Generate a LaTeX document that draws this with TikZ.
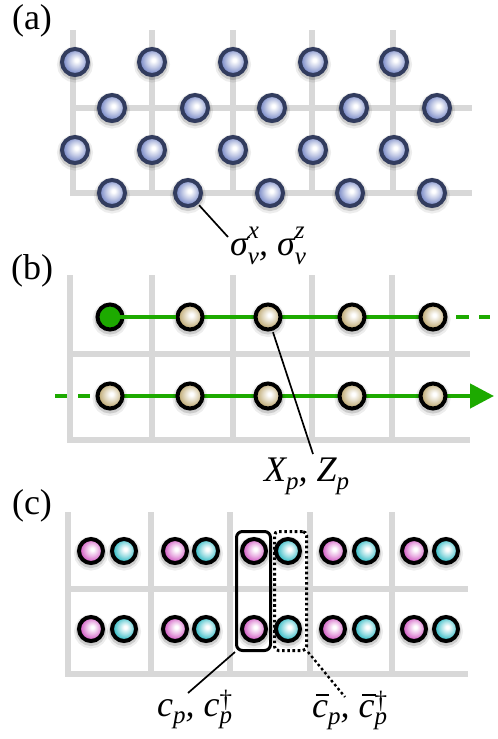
\documentclass[tikz,border=0pt]{standalone}
\usepackage{fontspec}
\setmainfont{Liberation Serif}
\usetikzlibrary{arrows.meta}
\definecolor{gridc}{HTML}{D8D8D8}
\definecolor{aline}{HTML}{323C5E}
\definecolor{aout}{HTML}{7C8CC8}
\definecolor{bout}{HTML}{BFAA74}
\definecolor{pout}{HTML}{D25CC4}
\definecolor{cout}{HTML}{36BCC6}
\definecolor{gline}{HTML}{1DAA00}
\pgfdeclareradialshading{shA}{\pgfpoint{3bp}{4bp}}{color(0bp)=(white); color(3bp)=(white); color(13bp)=(aout!45!white); color(24bp)=(aout); color(50bp)=(aout!85!black)}
\pgfdeclareradialshading{shB}{\pgfpoint{3bp}{4bp}}{color(0bp)=(white); color(3bp)=(white); color(13bp)=(bout!45!white); color(24bp)=(bout); color(50bp)=(bout!85!black)}
\pgfdeclareradialshading{shP}{\pgfpoint{3bp}{4bp}}{color(0bp)=(white); color(3bp)=(white); color(13bp)=(pout!45!white); color(24bp)=(pout); color(50bp)=(pout!85!black)}
\pgfdeclareradialshading{shC}{\pgfpoint{3bp}{4bp}}{color(0bp)=(white); color(3bp)=(white); color(13bp)=(cout!45!white); color(24bp)=(cout); color(50bp)=(cout!85!black)}
\newcommand\lbl{\fontsize{36}{40}\selectfont\itshape}
\newcommand\scr{\fontsize{25}{27}\selectfont}
\newlength\sswd
\newcommand\SSc[4]{\setbox0=\hbox{\scr #1}\setbox2=\hbox{\scr #2}%
  \sswd=\wd0 \ifdim\wd2>\sswd \sswd=\wd2\fi
  \rlap{\raisebox{#3}{\box0}}\rlap{\raisebox{-#4}{\box2}}\hspace{\sswd}}
\newcommand\SBc[2]{\raisebox{-#2}{\scr #1}}
\newcommand\barc{\rlap{\hspace{0.1em}\rule[0.58em]{0.38em}{0.05em}}c}
\tikzset{
  gridln/.style={gridc, line width=5.5pt},
  shadowed/.style={preaction={draw=black,fill=black,opacity=0.07,line width=10pt,transform canvas={yshift=-2.5pt}},
                   preaction={draw=black,fill=black,opacity=0.14,line width=6pt,transform canvas={yshift=-2pt}}},
  ballbase/.style={circle, inner sep=0pt, line width=4pt, shadowed, shade},
  balla/.style={ballbase, minimum size=26pt, draw=aline, shading=shA},
  ballb/.style={ballbase, minimum size=25pt, draw=black, shading=shB},
  ballg/.style={circle, inner sep=0pt, line width=4pt, shadowed, minimum size=25pt, draw=black, fill=gline},
  ballp/.style={ballbase, minimum size=24pt, draw=black, shading=shP},
  ballc/.style={ballbase, minimum size=24pt, draw=black, shading=shC},
  greenln/.style={gline, line width=4.5pt},
  leader/.style={black, line width=1.7pt, shorten <=1.5pt},
  dotln/.style={dash pattern=on 2.6pt off 2.6pt},
  panel/.style={font=\fontsize{36}{40}\selectfont, inner sep=0pt},
  mlabel/.style={anchor=base west, inner sep=0pt, font=\lbl},
}
\begin{document}
\begin{tikzpicture}[x=1pt,y=-1pt]
\useasboundingbox (0,0) rectangle (498,739);
% ---------- panel (a)
\node[panel] (pa) at (32,21) {(a)};
\foreach \x in {73,152,233,312,393} \draw[gridln] (\x,30) -- (\x,195);
\draw[gridln] (73,108) -- (472,108);
\draw[gridln] (70,193) -- (472,193);
\foreach \x [count=\i] in {75,152,233,313,394} {
  \node[balla] (a1\i) at (\x,62) {};
  \node[balla] (a3\i) at (\x,150) {};
}
\foreach \x [count=\i] in {112,195,272,354,437} \node[balla] (a2\i) at (\x,108) {};
\foreach \x [count=\i] in {112,188,270,350,432} \node[balla] (a4\i) at (\x,193) {};
\coordinate (sa) at (228,237);
\draw[leader] (a42) -- (sa);
\node[mlabel] (lsig) at (230,255) {σ\SSc{x}{ν}{17pt}{9pt}, σ\SSc{z}{ν}{17pt}{9pt}};
% ---------- panel (b)
\node[panel] (pb) at (32,271) {(b)};
\foreach \x in {70,152,233,312,392} \draw[gridln] (\x,275) -- (\x,442);
\draw[gridln] (70,354) -- (470,354);
\draw[gridln] (67,440) -- (470,440);
\foreach \x [count=\i] in {110,190,268,352,433} {
  \coordinate (p1\i) at (\x,317);
  \coordinate (p2\i) at (\x,396);
}
\coordinate (g1end) at (490,317);
\coordinate (g2start) at (55,396);
\coordinate (g2end) at (494,396);
\draw[greenln] (p11) -- (p15);
\draw[greenln, dash pattern=on 13pt off 10pt] (p15) -- (g1end);
\draw[greenln, dash pattern=on 12pt off 11pt] (g2start) -- (p21);
\draw[greenln, -{Triangle[length=24pt,width=24pt]}] (p21) -- (g2end);
\node[ballg] (b11) at (p11) {};
\foreach \i in {2,...,5} \node[ballb] (b1\i) at (p1\i) {};
\foreach \i in {1,...,5} \node[ballb] (b2\i) at (p2\i) {};
\draw[greenln] (b11.center) -- (b12.west);
\coordinate (sb) at (313,454);
\draw[leader] (b13) -- (sb);
\node[mlabel] (lxz) at (264,481) {X\SBc{p}{8pt}, Z\SBc{p}{8pt}};
% ---------- panel (c)
\node[panel] (pc) at (32,506) {(c)};
\foreach \x in {68,151,230,310,392} \draw[gridln] (\x,512) -- (\x,676);
\draw[gridln] (68,589) -- (468,589);
\draw[gridln] (65,674) -- (468,674);
\foreach \xp/\xc [count=\i] in {91/124,175/206,254/288,333/366,414/446} {
  \node[ballp] (cp1\i) at (\xp,551) {};
  \node[ballc] (cc1\i) at (\xc,551) {};
  \node[ballp] (cp2\i) at (\xp,629) {};
  \node[ballc] (cc2\i) at (\xc,629) {};
}
\node[draw, line width=3pt, rounded corners=6pt, minimum width=34pt, minimum height=119pt, inner sep=0pt] (cbox) at (253.5,591) {};
\node[draw, line width=3pt, dotln, rounded corners=4pt, minimum width=32pt, minimum height=119pt, inner sep=0pt] (dbox) at (290.5,591) {};
\coordinate (sc) at (188,693);
\coordinate (sd) at (345,697);
\draw[leader, shorten <=0pt] (cbox.south west) -- (sc);
\draw[leader, shorten <=0pt, line width=2.4pt, dotln] (dbox.south east) -- (sd);
\node[mlabel] (lc) at (157,716) {c\SBc{p}{7pt}, c\SSc{\upshape †}{p}{9pt}{7pt}};
\node[mlabel] (lcb) at (312,717) {\barc\SBc{p}{7pt}, \barc\SSc{\upshape †}{p}{9pt}{7pt}};
\end{tikzpicture}
\end{document}
